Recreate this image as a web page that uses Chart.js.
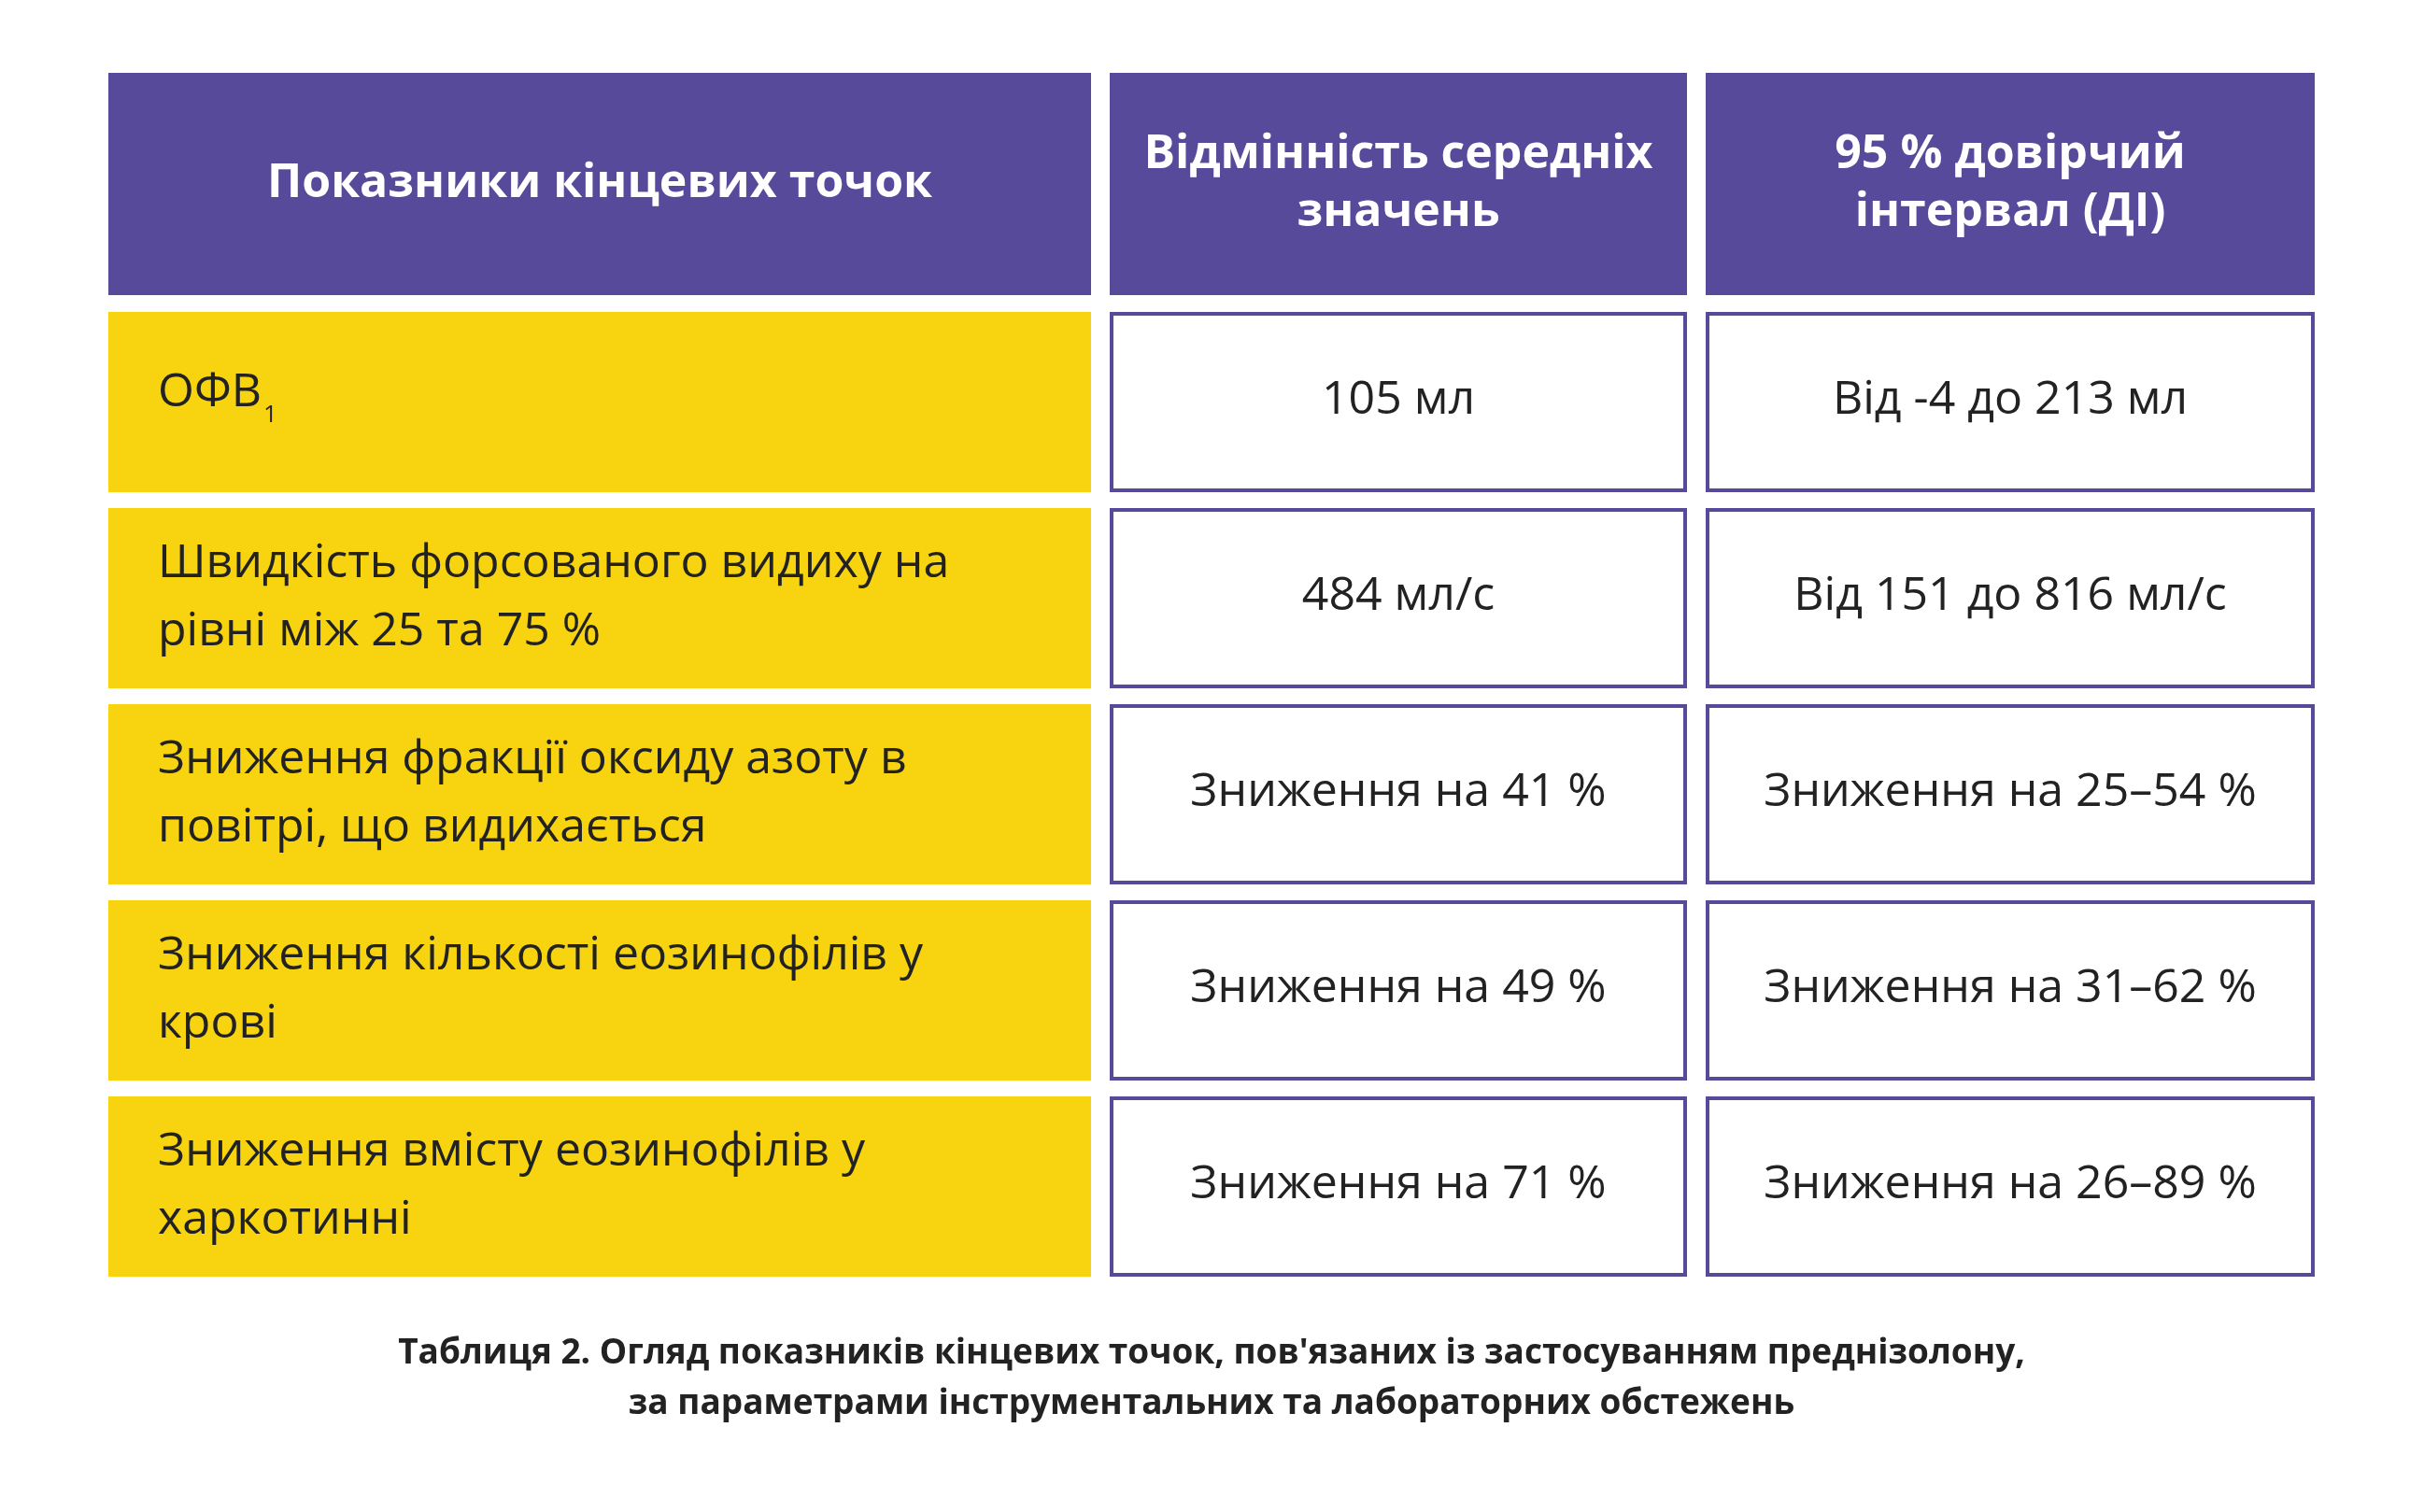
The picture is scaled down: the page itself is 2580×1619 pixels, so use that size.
<!DOCTYPE html>
<html><head><meta charset="utf-8">
<script src="https://cdn.jsdelivr.net/npm/chart.js@4/dist/chart.umd.min.js"></script>
<style>html,body{margin:0;padding:0;background:#fff}#c{display:block}</style>
</head><body>
<div style="width:2580px;height:1619px"><canvas id="c"></canvas></div>
<script>
const headers = [['Показники кінцевих точок'], ['Відмінність середніх', 'значень'], ['95 % довірчий', 'інтервал (ДІ)']];
const endpoints = [
  ['ОФВ'],
  ['Швидкість форсованого видиху на', 'рівні між 25 та 75 %'],
  ['Зниження фракції оксиду азоту в', 'повітрі, що видихається'],
  ['Зниження кількості еозинофілів у', 'крові'],
  ['Зниження вмісту еозинофілів у', 'харкотинні']
];
const meanDiff = ['105 мл', '484 мл/с', 'Зниження на 41 %', 'Зниження на 49 %', 'Зниження на 71 %'];
const ciValues = ['Від -4 до 213 мл', 'Від 151 до 816 мл/с', 'Зниження на 25–54 %', 'Зниження на 31–62 %', 'Зниження на 26–89 %'];
const caption = ['Таблиця 2. Огляд показників кінцевих точок, пов\'язаних із застосуванням преднізолону,', 'за параметрами інструментальних та лабораторних обстежень'];

// layout in canvas units (scales map 1:1)
const colX = [[116, 1168], [1188, 1806], [1826, 2478]];
const headY = [78, 316];
const rowTop = 334, rowH = 193, rowPitch = 210;
const PURPLE = '#574a9b', YELLOW = '#f7d40f';
const FONT = '"Open Sans", "Noto Sans", sans-serif';

const tablePlugin = {
  id: 'table',
  afterDraw(chart) {
    const ctx = chart.ctx, sx = chart.scales.x, sy = chart.scales.y;
    const X = v => sx.getPixelForValue(v), Y = v => sy.getPixelForValue(v);
    ctx.save();
    // header
    headers.forEach((lines, i) => {
      const [a, b] = colX[i];
      ctx.fillStyle = PURPLE;
      ctx.fillRect(X(a), Y(headY[0]), X(b) - X(a), Y(headY[1]) - Y(headY[0]));
      ctx.fillStyle = '#fff';
      ctx.font = '700 50px ' + FONT;
      ctx.textAlign = 'center'; ctx.textBaseline = 'middle';
      const cy = (headY[0] + headY[1]) / 2, lh = 62;
      lines.forEach((t, k) => ctx.fillText(t, X((a + b) / 2), Y(cy + (k - (lines.length - 1) / 2) * lh)));
    });
    // rows
    endpoints.forEach((lines, r) => {
      const t = rowTop + r * rowPitch, bm = t + rowH, cy = (t + bm) / 2;
      let [a, b] = colX[0];
      ctx.fillStyle = YELLOW;
      ctx.fillRect(X(a), Y(t), X(b) - X(a), Y(bm) - Y(t));
      ctx.fillStyle = '#222';
      ctx.font = '400 50px ' + FONT;
      ctx.textAlign = 'left'; ctx.textBaseline = 'middle';
      const lh = 73;
      const y0 = lines.length === 1 ? cy - 10 : cy - lh / 2;
      lines.forEach((s, k) => ctx.fillText(s, X(169), Y(y0 + k * lh)));
      if (r === 0) {
        const w = ctx.measureText(lines[0]).width;
        ctx.font = '400 26px ' + FONT;
        ctx.fillText('1', X(169) + w + 2, Y(y0 + 24));
      }
      [meanDiff[r], ciValues[r]].forEach((s, j) => {
        const [c, d] = colX[j + 1];
        ctx.strokeStyle = PURPLE; ctx.lineWidth = 4;
        ctx.strokeRect(X(c) + 2, Y(t) + 2, X(d) - X(c) - 4, Y(bm) - Y(t) - 4);
        ctx.fillStyle = '#222';
        ctx.font = '400 50px ' + FONT;
        ctx.textAlign = 'center';
        ctx.fillText(s, X((c + d) / 2), Y(cy - 2));
      });
    });
    // caption
    ctx.fillStyle = '#222';
    ctx.font = '700 37px ' + FONT;
    ctx.textAlign = 'center';
    ctx.fillText(caption[0], X(1297), Y(1449));
    ctx.fillText(caption[1], X(1297), Y(1503));
    ctx.restore();
  }
};

new Chart(document.getElementById('c'), {
  type: 'scatter',
  data: { datasets: [{ data: [] }] },
  options: {
    responsive: true, maintainAspectRatio: false, animation: false,
    layout: { padding: 0 },
    plugins: { legend: { display: false }, tooltip: { enabled: false } },
    scales: {
      x: { type: 'linear', min: 0, max: 2580, display: false },
      y: { type: 'linear', min: 0, max: 1619, reverse: true, display: false }
    }
  },
  plugins: [tablePlugin]
});
</script>
</body></html>
